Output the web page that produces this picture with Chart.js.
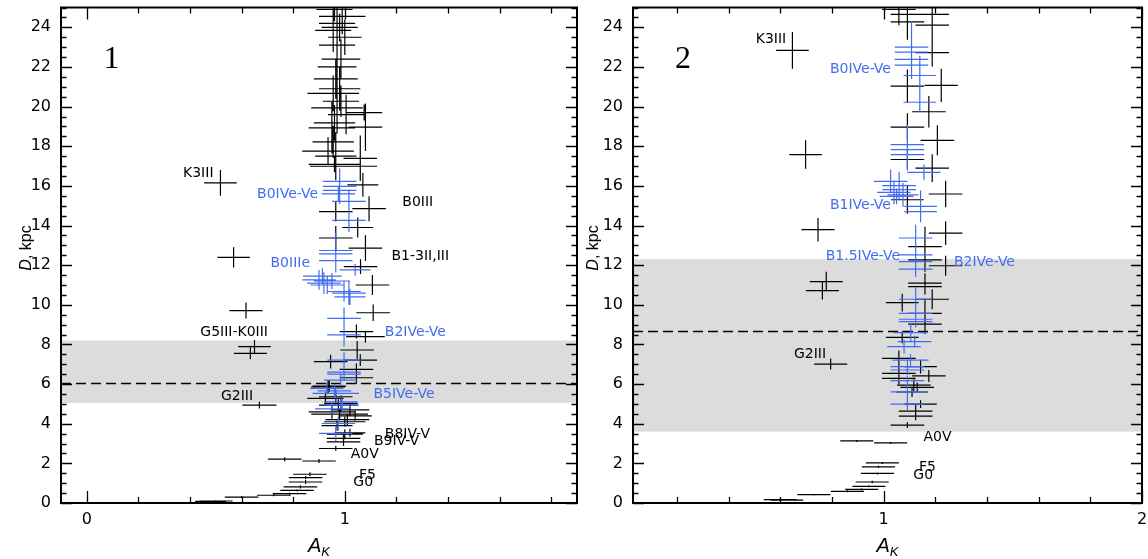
<!DOCTYPE html>
<html><head><meta charset="utf-8">
<script src="https://cdn.jsdelivr.net/npm/chart.js@4.4.0/dist/chart.umd.min.js"></script>
<style>
html,body{margin:0;padding:0;background:#fff;width:1148px;height:559px;overflow:hidden;position:relative}
canvas{position:absolute;top:0}
#c1{left:0}
#c2{left:580px}
</style></head><body>
<canvas id="c1" width="600" height="559"></canvas>
<canvas id="c2" width="568" height="559"></canvas>
<script>
// ---------- DATA: [A_K, D (kpc), error A_K, error D] ----------
const p1Black = [
 [0.96,24.9,0.07,0.6],[0.99,24.55,0.09,0.9],[0.97,24.2,0.07,1.0],[0.98,24.0,0.07,0.7],
 [0.955,23.85,0.07,1.1],[1.0,23.5,0.065,0.9],[0.97,23.1,0.07,1.3],[0.985,22.4,0.075,1.0],
 [0.97,22.0,0.075,1.6],[0.965,21.4,0.085,1.0],[0.98,20.9,0.08,1.1],[0.955,20.67,0.1,0.9],
 [0.985,20.27,0.07,0.8],[0.97,19.94,0.1,1.3],[1.005,19.6,0.07,1.0],[1.075,19.7,0.07,0.4],
 [1.08,18.96,0.065,1.2],[0.96,19.18,0.08,0.9],[0.95,18.93,0.09,1.3],[0.955,18.22,0.08,0.8],
 [0.935,17.75,0.1,0.7],[0.965,17.5,0.08,1.2],[1.06,17.39,0.065,1.15],[1.06,16.99,0.065,0.5],
 [0.96,17.09,0.1,0.4],[0.965,16.99,0.1,0.7],[1.07,16.05,0.06,0.6],
 [1.094,14.85,0.065,0.63],[0.965,14.7,0.065,0.5],[1.05,13.9,0.06,0.5],[0.965,13.37,0.065,0.6],
 [1.08,12.86,0.065,0.65],[1.061,11.93,0.065,0.37],[1.107,11.0,0.065,0.5],[1.11,9.6,0.065,0.42],
 [1.045,8.65,0.065,0.35],[1.08,8.39,0.075,0.3],[1.048,7.72,0.065,0.45],[1.06,7.21,0.065,0.3],
 [0.945,7.13,0.065,0.35],[1.045,6.74,0.065,0.3],[1.045,6.32,0.065,0.3],[0.94,5.9,0.065,0.3],
 [0.935,5.86,0.065,0.35],[0.965,5.36,0.065,0.3],[0.925,5.28,0.07,0.3],[0.985,5.03,0.065,0.4],
 [0.975,4.94,0.075,0.3],[1.02,4.7,0.075,0.3],[0.95,4.6,0.09,0.35],[0.98,4.48,0.11,0.3],
 [1.04,4.4,0.065,0.25],[1.01,4.21,0.085,0.3],[1.0,4.1,0.08,0.25],[0.97,3.9,0.06,0.25],
 [1.02,3.54,0.06,0.2],[1.0,3.47,0.07,0.25],[0.995,3.26,0.065,0.3],[0.995,3.08,0.065,0.2],
 [0.965,2.75,0.065,0.12],[0.767,2.21,0.065,0.1],[0.90,2.12,0.065,0.1],[0.865,1.45,0.065,0.1],
 [0.848,1.28,0.065,0.08],[0.848,1.06,0.065,0.1],[0.828,0.81,0.065,0.08],[0.815,0.64,0.065,0.06],
 [0.786,0.47,0.065,0.06],[0.725,0.39,0.065,0.05],[0.60,0.3,0.065,0.05],[0.50,0.1,0.065,0.04],
 [0.48,0.08,0.06,0.03],
 [0.518,16.15,0.063,0.65],[0.569,12.39,0.063,0.51],[0.617,9.71,0.064,0.4],[0.65,7.89,0.063,0.34],
 [0.634,7.55,0.064,0.3],[0.669,4.94,0.066,0.17]
];
const p1Blue = [
 [0.98,16.23,0.065,0.6],[0.98,15.98,0.065,0.9],[0.98,15.77,0.065,0.5],[0.975,15.6,0.065,0.4],
 [1.016,15.22,0.065,0.6],[1.016,14.26,0.065,0.6],[0.965,12.74,0.065,0.9],[0.965,12.57,0.065,0.5],
 [0.965,12.23,0.065,0.6],[1.04,11.76,0.06,0.3],[0.90,11.26,0.065,0.5],[0.913,11.45,0.075,0.4],
 [0.919,11.09,0.065,0.55],[0.932,11.0,0.065,0.45],[0.95,11.2,0.07,0.4],[0.997,10.67,0.065,0.5],
 [1.016,10.59,0.065,0.6],[1.02,10.4,0.06,0.4],[0.997,9.32,0.065,0.55],[0.997,8.48,0.065,0.6],
 [0.997,7.21,0.065,0.4],[0.997,6.6,0.065,0.3],[0.997,6.5,0.065,0.35],[0.984,6.2,0.065,0.3],
 [0.96,5.66,0.065,0.35],[0.965,5.53,0.09,0.3],[0.93,5.78,0.065,0.3],[0.985,5.1,0.065,0.35],
 [0.99,4.94,0.065,0.3],[0.95,4.75,0.065,0.3],[0.975,4.01,0.065,0.35],[0.965,3.51,0.065,0.4]
];
const p2Black = [
 [0.647,22.84,0.063,0.93],[0.698,17.58,0.063,0.72],[0.746,13.79,0.064,0.59],[0.778,11.17,0.064,0.5],
 [0.763,10.72,0.064,0.45],[0.795,7.01,0.064,0.28],[0.896,3.13,0.064,0.05],[1.027,3.03,0.064,0.05],
 [0.995,2.02,0.064,0.05],[0.98,1.82,0.064,0.06],[0.976,1.49,0.064,0.05],[0.956,1.06,0.064,0.06],
 [0.943,0.84,0.064,0.05],[0.915,0.69,0.064,0.05],[0.86,0.59,0.064,0.05],[0.73,0.42,0.064,0.04],
 [0.60,0.17,0.064,0.05],[0.625,0.15,0.064,0.04],
 [1.092,24.65,0.065,1.0],[1.092,24.27,0.065,0.9],[1.059,24.9,0.065,0.8],[1.188,24.65,0.065,0.5],
 [1.188,24.11,0.065,0.8],[1.188,22.72,0.065,0.7],[1.092,21.03,0.065,0.84],[1.223,21.07,0.064,0.84],
 [1.175,19.74,0.065,0.8],[1.092,18.96,0.065,0.7],[1.208,18.3,0.065,0.76],[1.092,17.33,0.065,0.5],
 [1.188,16.9,0.065,0.7],[1.24,15.59,0.065,0.67],[1.092,15.3,0.063,0.7],[1.24,13.62,0.065,0.6],
 [1.16,12.94,0.065,1.0],[1.16,12.27,0.065,0.6],[1.24,11.97,0.065,0.5],[1.16,11.09,0.065,0.5],
 [1.16,10.92,0.065,0.4],[1.188,10.28,0.065,0.5],[1.072,10.11,0.063,0.45],[1.16,9.57,0.065,0.7],
 [1.16,9.03,0.065,0.5],[1.072,8.36,0.063,0.3],[1.059,7.3,0.065,0.4],[1.143,6.88,0.063,0.35],
 [1.059,6.54,0.065,0.45],[1.175,6.41,0.065,0.3],[1.059,6.29,0.065,0.3],[1.117,5.95,0.065,0.3],
 [1.13,5.83,0.065,0.25],[1.11,5.6,0.062,0.25],[1.143,4.99,0.063,0.2],[1.124,4.64,0.065,0.35],
 [1.124,4.38,0.065,0.2],[1.092,3.93,0.065,0.15]
];
const p2Blue = [
 [1.108,23.0,0.065,1.3],[1.108,22.75,0.065,0.6],[1.108,22.38,0.065,0.6],[1.108,22.09,0.065,0.7],
 [1.14,21.57,0.063,1.0],[1.14,20.22,0.063,0.5],[1.092,18.08,0.065,1.0],[1.092,17.83,0.065,0.6],
 [1.092,17.58,0.065,0.8],[1.156,16.68,0.065,0.4],[1.027,16.23,0.065,0.6],[1.06,16.01,0.065,0.7],
 [1.06,15.81,0.065,0.5],[1.04,15.67,0.065,0.6],[1.05,15.47,0.065,0.4],[1.075,15.55,0.06,0.6],
 [1.143,14.97,0.063,0.8],[1.143,14.7,0.063,0.4],[1.124,13.37,0.065,0.67],[1.124,12.52,0.065,0.6],
 [1.124,12.18,0.065,0.5],[1.124,11.8,0.065,0.4],[1.124,10.28,0.065,0.6],[1.124,9.57,0.065,0.5],
 [1.124,9.27,0.065,0.4],[1.124,9.15,0.065,0.3],[1.105,8.6,0.065,0.5],[1.12,8.14,0.065,0.3],
 [1.079,7.89,0.065,0.35],[1.104,7.21,0.07,0.3],[1.092,6.88,0.065,0.3],[1.092,6.71,0.065,0.25],
 [1.092,6.17,0.065,0.25],[1.092,5.61,0.065,0.35],[1.092,4.99,0.065,0.3]
];
// spectral-type labels: [text, A_K, D]
const p1LabelsBlack = [['K3III',0.373,16.64],['B0III',1.223,15.15],['B1-3II,III',1.181,12.42],
 ['G5III-K0III',0.44,8.6],['G2III',0.52,5.39],['B8IV-V',1.155,3.44],['B9IV-V',1.113,3.12],
 ['A0V',1.023,2.43],['F5',1.055,1.40],['G0',1.033,1.02]];
const p1LabelsBlue = [['B0IVe-Ve',0.66,15.56],['B0IIIe',0.712,12.09],['B2IVe-Ve',1.155,8.63],['B5IVe-Ve',1.111,5.47]];
const p2LabelsBlack = [['K3III',0.505,23.37],['G2III',0.653,7.49],['A0V',1.154,3.32],['F5',1.137,1.82],['G0',1.115,1.39]];
const p2LabelsBlue = [['B0IVe-Ve',0.792,21.88],['B1IVe-Ve',0.792,15.0],['B1.5IVe-Ve',0.776,12.45],['B2IVe-Ve',1.272,12.12]];
// shaded band [D min, D max] and dashed line D
const p1Band = [5.05, 8.2], p1Dash = 6.05;
const p2Band = [3.6, 12.3], p2Dash = 8.7;
// axes
const p1XRange = [-0.1, 1.9], p2XRange = [0.03, 2.0];
const p1XTicks = [0, 1], p2XTicks = [1, 2];
const yRange = [0, 25];
const yTicks = [0,2,4,6,8,10,12,14,16,18,20,22,24];

// ---------- RENDER ----------
const BLUE = 'rgb(66,108,240)';
const TICKFONT = {family:'"DejaVu Sans"', size:16, lineHeight:0.9};
const HIDDENGRID = {display:true, drawOnChartArea:false, drawTicks:true, tickLength:10, color:'rgba(0,0,0,0)'};
function segs(points){
  const out=[];
  for(const [x,y,ex,ey] of points){
    out.push({x:x-ex,y:y},{x:x+ex,y:y},{x:x,y:null},{x:x,y:y-ey},{x:x,y:y+ey},{x:x,y:null});
  }
  return out;
}
function panelPlugin(o){
  return {
    id:'panel'+o.num,
    beforeDatasetsDraw(chart){
      const {ctx, chartArea:a, scales:{x,y}} = chart;
      ctx.save();
      ctx.fillStyle='#dcdcdc';
      const yt=y.getPixelForValue(o.band[1]), yb=y.getPixelForValue(o.band[0]);
      ctx.fillRect(a.left, yt, a.right-a.left, yb-yt);
      ctx.strokeStyle='#000'; ctx.lineWidth=1.3; ctx.setLineDash([10,5]);
      const yd=Math.round(y.getPixelForValue(o.dash))+0.5;
      ctx.beginPath(); ctx.moveTo(a.left,yd); ctx.lineTo(a.right,yd); ctx.stroke();
      ctx.restore();
    },
    afterDatasetsDraw(chart){
      const {ctx, scales:{x,y}} = chart;
      ctx.save();
      ctx.font='14px "DejaVu Sans"';
      ctx.textAlign='left'; ctx.textBaseline='middle';
      ctx.fillStyle='#000';
      for(const [t,vx,vy] of o.lblK) ctx.fillText(t, x.getPixelForValue(vx), y.getPixelForValue(vy));
      ctx.fillStyle=BLUE;
      for(const [t,vx,vy] of o.lblB) ctx.fillText(t, x.getPixelForValue(vx), y.getPixelForValue(vy));
      ctx.restore();
    },
    afterDraw(chart){
      const {ctx, chartArea:a, scales:{x,y}} = chart;
      ctx.save();
      // ticks
      ctx.strokeStyle='#000'; ctx.lineWidth=1.3;
      ctx.beginPath();
      for(let i=0;i<=50;i++){
        const v=i*0.5, py=Math.round(y.getPixelForValue(v))+0.5;
        const len = (i%4===0)?11:5.5;
        ctx.moveTo(a.left,py); ctx.lineTo(a.left+len,py);
        ctx.moveTo(a.right,py); ctx.lineTo(a.right-len,py);
      }
      const i0=Math.ceil(o.xr[0]*5-1e-9), i1=Math.floor(o.xr[1]*5+1e-9);
      for(let i=i0;i<=i1;i++){
        const v=i/5, px=Math.round(x.getPixelForValue(v))+0.5;
        const len=(i%5===0)?12:6;
        ctx.moveTo(px,a.bottom); ctx.lineTo(px,a.bottom-len);
        ctx.moveTo(px,a.top); ctx.lineTo(px,a.top+len);
      }
      ctx.stroke();
      // frame
      ctx.lineWidth=2;
      ctx.strokeRect(a.left, a.top, a.right-a.left, a.bottom-a.top);
      // panel number
      ctx.fillStyle='#000';
      ctx.font='32px "Liberation Serif"'; ctx.textAlign='center'; ctx.textBaseline='alphabetic';
      ctx.fillText(o.num, o.numX, 68);
      // x title A_K
      const cx=(a.left+a.right)/2;
      ctx.font='italic 20px "Liberation Sans"';
      const wA=ctx.measureText('A').width;
      ctx.font='italic 13px "Liberation Sans"';
      const wK=ctx.measureText('K').width;
      const sx=cx-(wA+wK)/2;
      ctx.textAlign='left';
      ctx.font='italic 20px "Liberation Sans"'; ctx.fillText('A', sx, 552);
      ctx.font='italic 13px "Liberation Sans"'; ctx.fillText('K', sx+wA, 556);
      // y title D, kpc
      ctx.translate(o.yTitleX, 248);
      ctx.rotate(-Math.PI/2);
      ctx.font='italic 16px "Liberation Sans"';
      const wD=ctx.measureText('D').width;
      ctx.font='16px "Liberation Sans"';
      const wR=ctx.measureText(', kpc').width;
      const s0=-(wD+wR)/2;
      ctx.font='italic 16px "Liberation Sans"'; ctx.fillText('D', s0, 0);
      ctx.font='16px "Liberation Sans"'; ctx.fillText(', kpc', s0+wD, 0);
      ctx.restore();
    }
  };
}
function makeChart(id, o){
  return new Chart(document.getElementById(id), {
    type:'scatter',
    data:{datasets:[
      {data:segs(o.blue), showLine:true, pointRadius:0, borderColor:BLUE, borderWidth:1.2, spanGaps:false, tension:0},
      {data:segs(o.black), showLine:true, pointRadius:0, borderColor:'#000', borderWidth:1.2, spanGaps:false, tension:0}
    ]},
    options:{
      responsive:false, animation:false, devicePixelRatio:1, events:[],
      layout:{padding:{left:0,right:o.padR,top:7.5,bottom:0}},
      plugins:{legend:{display:false}, tooltip:{enabled:false}},
      scales:{
        x:{type:'linear', min:o.xr[0], max:o.xr[1],
           afterBuildTicks:s=>{s.ticks=o.xt.map(v=>({value:v}));},
           afterFit:s=>{s.height=56;},
           ticks:{font:TICKFONT, color:'#000', padding:0, maxRotation:0, callback:v=>String(v)},
           grid:HIDDENGRID, border:{display:false}},
        y:{type:'linear', min:yRange[0], max:yRange[1],
           afterBuildTicks:s=>{s.ticks=yTicks.map(v=>({value:v}));},
           afterFit:s=>{s.width=o.yw;},
           ticks:{font:TICKFONT, color:'#000', padding:0, callback:v=>String(v)},
           grid:HIDDENGRID, border:{display:false}}
      }
    },
    plugins:[panelPlugin(o)]
  });
}
makeChart('c1',{num:'1', black:p1Black, blue:p1Blue, lblK:p1LabelsBlack, lblB:p1LabelsBlue,
  band:p1Band, dash:p1Dash, xr:p1XRange, xt:p1XTicks, padR:23, yw:61, numX:111.5, yTitleX:31});
makeChart('c2',{num:'2', black:p2Black, blue:p2Blue, lblK:p2LabelsBlack, lblB:p2LabelsBlue,
  band:p2Band, dash:p2Dash, xr:p2XRange, xt:p2XTicks, padR:6, yw:53, numX:103, yTitleX:18});
</script>
</body></html>
